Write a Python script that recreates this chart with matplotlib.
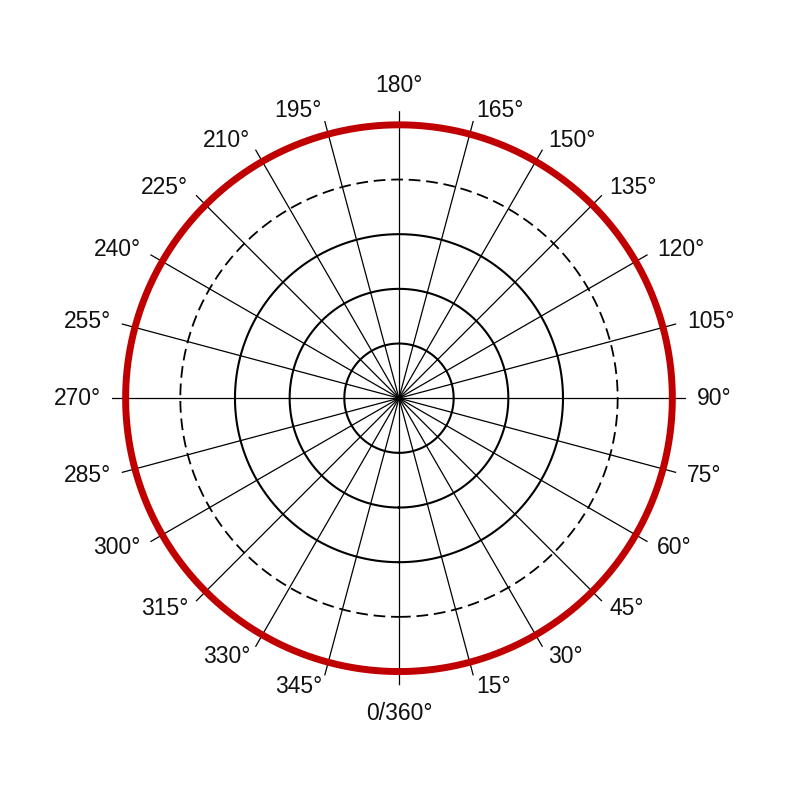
import numpy as np
import matplotlib.pyplot as plt

plt.rcParams['font.family'] = ['Liberation Sans', 'DejaVu Sans']

# angle labels every 15 degrees
angles_deg = list(range(0, 360, 15))
angle_labels = ['0/360°' if a == 0 else f'{a}°' for a in angles_deg]

# reference rings (solid) and the dashed ring
solid_rings = [1, 2, 3]
dashed_ring = 4

# measured pattern: constant level all round
pattern_deg = [0, 45, 90, 135, 180, 225, 270, 315, 360]
pattern_level = [5, 5, 5, 5, 5, 5, 5, 5, 5]

fig = plt.figure(figsize=(7.94, 7.94), dpi=100)
ax = fig.add_axes([0.141, 0.137, 0.723, 0.723], projection='polar')
ax.set_theta_zero_location('S')
ax.set_theta_direction(1)
ax.set_ylim(0, 5.25)

ax.set_thetagrids(angles_deg, labels=[''] * len(angles_deg))
ax.set_rgrids([0.001], labels=[''])
ax.yaxis.grid(False)
ax.xaxis.grid(True, color='black', linewidth=0.9)
ax.spines['polar'].set_visible(False)
ax.tick_params(length=0)

full = np.linspace(0, 2 * np.pi, 721)
for r in solid_rings:
    ax.plot(full, np.full_like(full, r), color='black', linewidth=1.5)
ax.plot(full, np.full_like(full, dashed_ring), color='black', linewidth=1.3,
        linestyle=(0, (6.5, 3.2)))

# smooth the constant pattern over the full circle
th = np.linspace(0, 2 * np.pi, 721)
lvl = np.interp(np.degrees(th), pattern_deg, pattern_level)
ax.plot(th, lvl, color='#C00000', linewidth=5, solid_capstyle='round')

# labels sit just past the spoke ends, aligned away from the circle
for a, lab in zip(angles_deg, angle_labels):
    r_lab = 5.45
    if a == 0:
        ha, va, r_lab = 'center', 'top', 5.55
    elif a == 180:
        ha, va, r_lab = 'center', 'bottom', 5.5
    elif a < 180:
        ha, va = 'left', 'center'
    else:
        ha, va = 'right', 'center'
    ax.text(np.radians(a), r_lab, lab, ha=ha, va=va, fontsize=16.5,
            color='#111111')

fig.savefig('out.png', dpi=100, facecolor='white')
